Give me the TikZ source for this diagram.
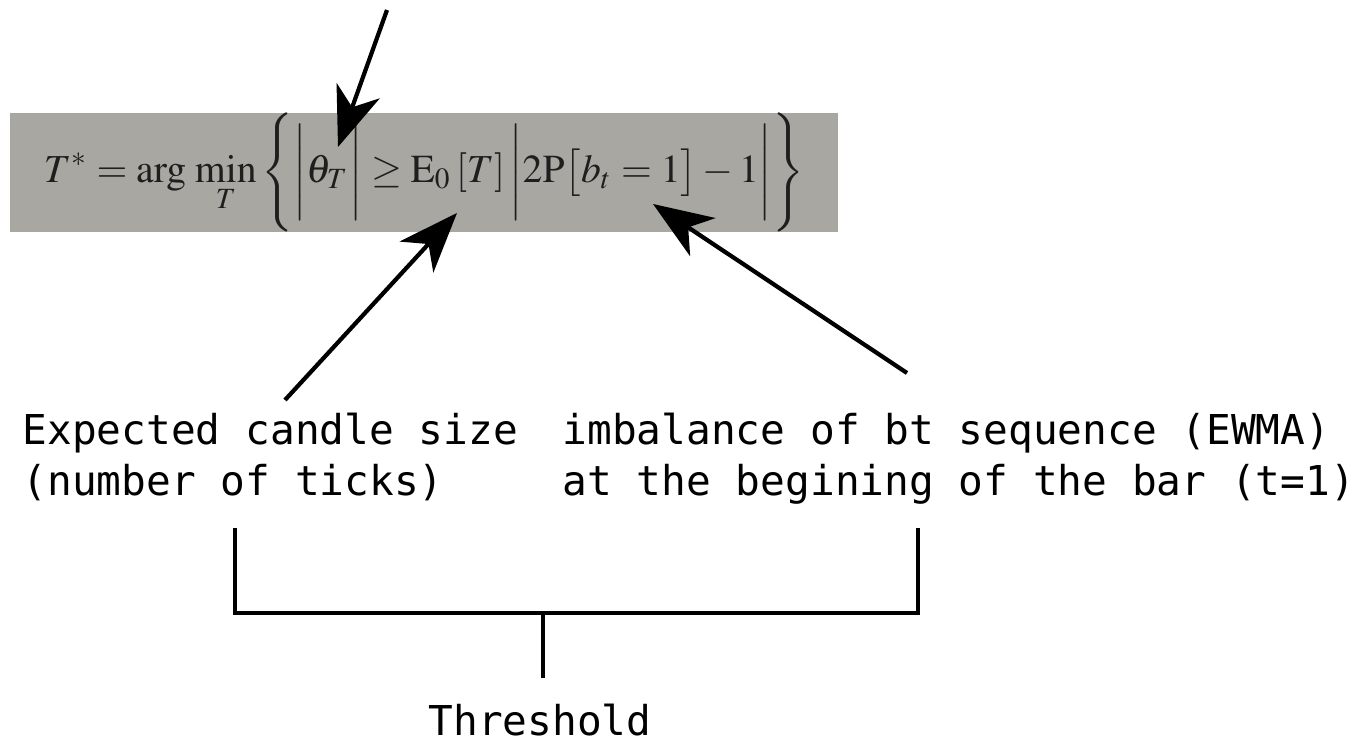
\documentclass[tikz,border=0pt]{standalone}
\usepackage{mathptmx}
\usepackage{fontspec}
\usepackage{graphicx}
\newfontfamily\handfont{DejaVu Sans Mono}
\usetikzlibrary{arrows.meta, positioning}
\definecolor{scanbg}{RGB}{168,167,162}
\definecolor{scanink}{RGB}{30,30,30}
\tikzset{
  formula/.style={
    rectangle, fill=scanbg, text=scanink,
    minimum width=8.28cm, minimum height=1.11cm, inner sep=0pt
  },
  note/.style={
    align=left, inner sep=0pt,
    font=\handfont\fontsize{11.7}{14.7}\selectfont
  },
  arr/.style={-{Stealth[length=17pt, width=13pt, inset=5pt]}, line width=1.2pt},
  brace/.style={line width=1.2pt},
}

\begin{document}
\begin{tikzpicture}

  \useasboundingbox (0,0) rectangle (13.72,-7.43);

  % ── nodes ─────────────────────────────────────────────────────────────────
  \node[formula] (eq) at (4.24,-1.725)
    {\resizebox{7.6cm}{!}{$\displaystyle T^{*} = \arg\,\min_{T} \Bigg\{ \bigg|\theta_{T}\bigg| \geq \mathrm{E}_{0}\,[T]\, \bigg|2\mathrm{P}\big[b_{t}=1\big]-1\bigg| \Bigg\}$}};

  \node[note, anchor=north west] (candle) at (0.22,-4.12)
    {Expected candle size\\(number of ticks)};
  \node[note, anchor=north west] (imbal)  at (5.62,-4.12)
    {imbalance of bt sequence (EWMA)\\at the begining of the bar (t=1)};
  \node[note, anchor=base]       (thresh) at (5.40,-7.35) {Threshold};

  % arrow ends
  \coordinate (toptail)    at (3.87,-0.10);
  \coordinate (thetatip)   at (3.38,-1.47);
  \coordinate (candletail) at (2.85,-4.00);
  \coordinate (Etip)       at (4.57,-2.13);
  \coordinate (imbaltail)  at (9.07,-3.73);
  \coordinate (btip)       at (6.53,-2.04);

  % bracket corners
  \coordinate (bl)      at (2.35,-5.28);
  \coordinate (br)      at (9.18,-5.28);
  \coordinate (stemtop) at (5.43,-6.13);
  \coordinate (stembot) at (5.43,-6.78);

  % ── edges ─────────────────────────────────────────────────────────────────
  \draw[arr] (toptail)    -- (thetatip);
  \draw[arr] (candletail) -- (Etip);
  \draw[arr] (imbaltail)  -- (btip);

  \draw[brace] (bl) |- (stemtop) -| (br);
  \draw[brace] (stemtop) -- (stembot);

\end{tikzpicture}
\end{document}
